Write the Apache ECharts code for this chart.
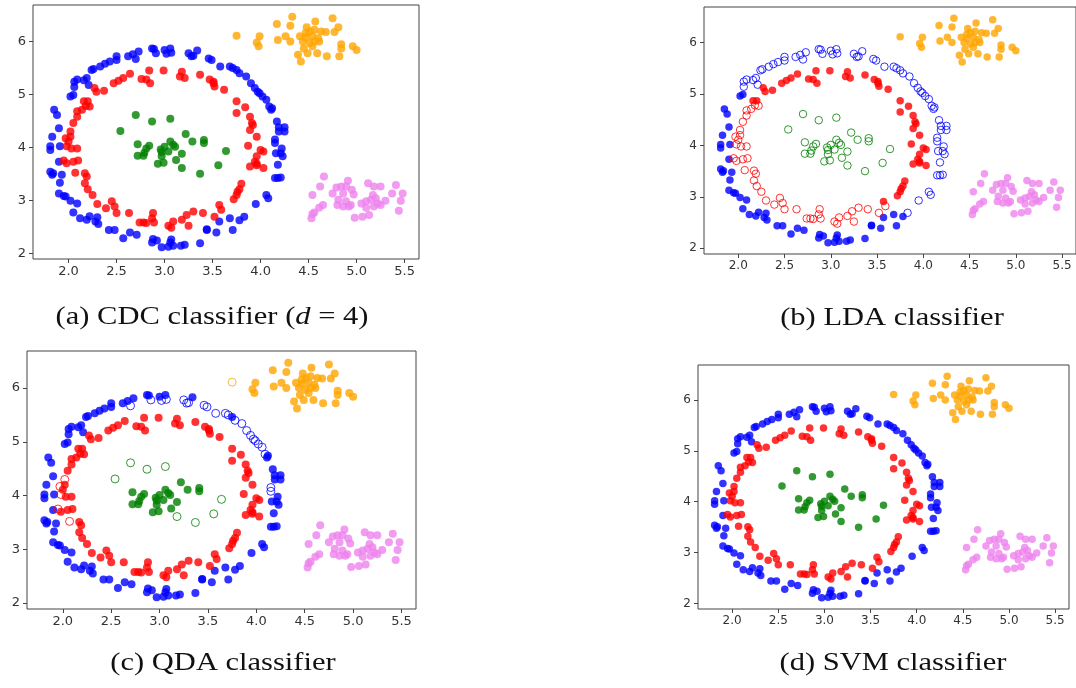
<!DOCTYPE html>
<html>
<head>
<meta charset="utf-8">
<script src="https://cdn.jsdelivr.net/npm/echarts@6/dist/echarts.min.js"></script>
<style>html,body{margin:0;background:#fff}#chart{width:1076px;height:688px}</style>
</head>
<body>
<div id="chart"></div>
<script>
// same data set in all four panels
var blue = [
    [2.89,5.86],[2.91,5.78],[3.00,5.84],[3.02,5.77],[3.06,5.87],[3.07,5.79],[3.25,5.78],[3.28,5.72],
    [3.34,5.83],[3.30,5.73],[3.46,5.68],[3.49,5.65],[3.58,5.53],[3.68,5.53],[3.75,5.46],[3.78,5.40],
    [3.71,5.50],[3.90,5.21],[3.94,5.12],[3.97,5.05],[4.02,4.96],[4.06,4.90],[4.09,4.77],[4.11,4.71],
    [4.17,4.49],[4.19,4.38],[4.25,4.38],[4.19,4.30],[4.15,4.15],[4.15,4.08],[4.22,3.98],[4.16,3.89],
    [4.23,3.83],[4.18,3.67],[4.18,3.42],[4.21,3.43],[4.06,3.10],[4.08,3.04],[3.95,2.93],[3.83,2.69],
    [3.78,2.62],[3.68,2.66],[3.71,2.44],[3.57,2.60],[3.54,2.39],[3.44,2.45],[3.37,2.19],[3.21,2.16],
    [3.17,2.14],[3.09,2.14],[3.07,2.26],[3.06,2.20],[2.97,2.11],[2.92,2.24],[2.87,2.20],[2.71,2.35],
    [2.64,2.39],[2.57,2.28],[2.48,2.44],[2.42,2.44],[2.31,2.55],[2.28,2.60],[2.30,2.68],[2.22,2.70],
    [2.12,2.66],[2.05,2.77],[2.09,2.94],[2.02,2.99],[1.95,3.08],[1.90,3.13],[1.91,3.33],[1.93,3.48],
    [1.81,3.54],[1.83,3.48],[1.90,3.73],[1.81,4.02],[1.81,3.95],[1.91,4.02],[1.83,4.20],[1.90,4.36],
    [1.88,4.61],[1.85,4.71],[2.05,4.99],[2.06,5.14],[2.06,5.24],[2.16,5.27],[2.21,5.18],[2.26,5.48],
    [2.33,5.53],[2.38,5.58],[2.50,5.65],[2.50,5.72],[2.62,5.72],[2.67,5.76],[2.73,5.81],[2.70,5.67],
    [2.09,5.28],[2.02,4.96],[2.19,5.31],[2.24,5.46],[2.43,5.62],[2.87,5.87],[3.85,5.34],[3.99,5.02],
    [4.12,4.74],[4.25,4.30],[4.21,3.89],[4.15,3.42],[2.19,2.63],[1.97,3.07],[1.84,3.51],[3.04,2.12],
    [2.88,2.27],[3.44,2.44]
];
var red = [
    [2.99,5.45],[2.84,5.45],[2.76,5.29],[2.81,5.28],[2.85,5.21],[2.64,5.39],[2.57,5.31],[2.52,5.26],
    [2.47,5.21],[2.37,5.07],[2.29,5.05],[2.27,5.12],[3.18,5.43],[3.16,5.34],[3.21,5.31],[3.37,5.37],
    [3.47,5.28],[3.51,5.21],[3.52,5.15],[3.62,5.09],[3.75,4.87],[3.75,4.65],[3.84,4.76],[3.89,4.58],
    [3.91,4.46],[3.89,4.33],[3.96,4.20],[3.87,4.03],[4.00,3.95],[4.03,3.92],[3.96,3.83],[3.94,3.73],
    [3.89,3.64],[4.03,3.61],[3.96,3.66],[3.80,3.31],[3.78,3.21],[3.75,3.10],[3.72,3.02],[3.57,2.91],
    [3.59,2.82],[3.52,2.69],[3.40,2.76],[3.30,2.79],[3.23,2.72],[3.18,2.63],[3.25,2.52],[3.09,2.60],
    [3.04,2.52],[3.07,2.48],[2.88,2.76],[2.89,2.58],[2.81,2.57],[2.74,2.58],[2.63,2.76],[2.50,2.76],
    [2.45,2.98],[2.48,2.88],[2.39,2.85],[2.30,2.93],[2.25,3.10],[2.20,3.21],[2.17,3.32],[2.17,3.51],
    [2.07,3.52],[2.05,3.73],[2.10,3.75],[1.95,3.75],[1.98,4.02],[2.03,3.98],[2.09,3.98],[1.97,4.17],
    [2.02,4.30],[2.05,4.46],[2.09,4.58],[2.14,4.71],[2.20,4.87],[2.22,4.77],[2.16,4.87],[2.02,4.20],
    [2.09,4.68],[2.18,4.78],[2.00,4.11],[1.98,3.70],[2.19,3.45],[2.78,2.58],[2.87,2.66],[3.76,3.16],
    [3.92,4.42],[3.96,3.69],[3.51,5.24]
];
var green = [
    [2.54,4.31],[2.70,4.61],[2.87,4.49],[3.06,4.54],[3.22,4.25],[3.29,4.11],[3.41,4.14],[3.41,4.08],
    [3.64,3.93],[3.56,3.66],[3.37,3.50],[2.72,4.06],[2.72,3.84],[2.78,3.84],[2.81,3.98],[2.84,4.03],
    [2.96,3.96],[3.00,4.01],[3.06,4.11],[3.09,4.05],[3.04,3.92],[2.97,3.83],[2.93,3.69],[2.99,3.71],
    [3.11,4.01],[3.18,3.88],[3.12,3.76],[3.18,3.61],[2.97,3.91],[2.79,3.90]
];
var orange = [
    [3.75,6.11],[4.17,6.33],[4.33,6.47],[4.31,6.30],[3.99,6.10],[3.96,5.98],[3.98,5.91],[4.18,6.03],
    [4.26,6.10],[4.31,6.00],[4.57,6.38],[4.48,6.27],[4.56,6.22],[4.63,6.19],[4.68,6.18],[4.75,6.44],
    [4.81,6.27],[4.77,6.18],[4.47,6.08],[4.54,6.10],[4.61,6.00],[4.51,5.97],[4.45,5.87],[4.39,5.75],
    [4.42,5.62],[4.49,5.78],[4.59,5.78],[4.69,5.72],[4.82,5.72],[4.84,5.95],[4.84,5.87],[4.96,5.91],
    [5.00,5.84],[4.54,5.91],[4.47,6.16],[4.41,6.10],[4.51,6.19],[4.60,6.06],[4.44,6.00],[4.56,6.00]
];
var violet = [
    [4.66,3.45],[4.62,3.26],[4.54,3.10],[4.65,2.91],[4.61,2.86],[4.56,2.77],[4.53,2.66],[4.54,2.74],
    [4.75,3.13],[4.79,3.24],[4.84,3.26],[4.91,3.37],[4.89,3.26],[4.95,3.20],[4.97,3.11],[4.86,3.13],
    [4.81,3.01],[4.80,2.91],[4.86,2.88],[4.92,2.88],[4.89,2.98],[4.98,2.67],[5.06,2.69],[5.13,2.72],
    [5.05,2.94],[5.10,2.98],[5.15,3.01],[5.20,3.04],[5.17,3.10],[5.22,2.94],[5.25,2.91],[5.18,2.88],
    [5.12,3.32],[5.18,3.26],[5.25,3.26],[5.30,2.99],[5.41,3.29],[5.37,3.13],[5.48,3.13],[5.46,2.99],
    [5.44,2.80],[5.10,2.86],[4.94,2.91]
];

var xTicks = [2.0, 2.5, 3.0, 3.5, 4.0, 4.5, 5.0, 5.5];
var yTicks = [2, 3, 4, 5, 6];

var captions = [
    "(a) CDC classifier ({i|d} = 4)",
    "(b) LDA classifier",
    "(c) QDA classifier",
    "(d) SVM classifier"
];

// indices of points drawn hollow (misclassified) in each panel
var hollowCDC = {blue: [], red: [], green: [], orange: [], violet: []};
var hollowLDA = {
    blue: [0,1,2,3,4,5,6,7,8,9,10,11,12,13,14,15,16,17,18,19,20,21,22,23,24,25,26,27,28,29,
           30,31,32,33,34,35,36,37,38,39,83,84,85,86,87,88,89,90,91,92,93,94,95,
           96,98,99,100,101,102,103,104,105,106,107],
    red: [40,41,42,43,44,45,46,47,48,49,50,51,52,53,54,55,56,57,58,59,60,61,62,63,64,65,66,
          67,68,69,70,71,72,73,74,75,77,79,80,81,82,83,84,85,86],
    green: [0,1,2,3,4,5,6,7,8,9,10,11,12,13,14,15,16,17,18,19,20,21,22,23,24,25,26,27,28,29],
    orange: [], violet: []
};
var hollowQDA = {
    blue: [1,3,5,6,7,9,10,11,12,13,15,16,17,18,19,20,21,22,28,29,95,102,103],
    red: [64,67,68,71,72],
    green: [0,1,2,3,8,9,10,27],
    orange: [0], violet: []
};
var hollowSVM = {blue: [], red: [], green: [], orange: [], violet: []};

var classes = [
    {name: "blue", data: blue, color: "#0000ff"},
    {name: "red", data: red, color: "#ff0000"},
    {name: "green", data: green, color: "#008000"},
    {name: "orange", data: orange, color: "#ffa500"},
    {name: "violet", data: violet, color: "#ee82ee"}
];

var panels = [
    {hollow: hollowCDC, grid: {left: 33, top: 5, width: 386, height: 254}, font: 13, dot: 8, cap: [212, 317]},
    {hollow: hollowLDA, grid: {left: 704, top: 7, width: 376, height: 247}, font: 12, dot: 7.5, cap: [892, 318]},
    {hollow: hollowQDA, grid: {left: 27, top: 351, width: 389, height: 258}, font: 13, dot: 8, cap: [223, 663]},
    {hollow: hollowSVM, grid: {left: 698, top: 365, width: 371, height: 244}, font: 12, dot: 7.5, cap: [893, 663]}
];

var chart = echarts.init(document.getElementById("chart"), null, {renderer: "canvas"});

var grids = [], xAxes = [], yAxes = [], series = [], texts = [];
panels.forEach(function(p, k) {
    grids.push(Object.assign({show: true, borderColor: "#444", borderWidth: 1, backgroundColor: "#fff"}, p.grid));
    xAxes.push({gridIndex: k, type: "value", min: 1.63, max: 5.65,
        splitLine: {show: false}, axisLine: {show: false},
        axisTick: {show: true, customValues: xTicks, length: 4, lineStyle: {color: "#444"}},
        axisLabel: {customValues: xTicks, margin: 6, fontSize: p.font, color: "#333", fontFamily: "DejaVu Sans",
            formatter: function(v) {return v.toFixed(1)}}
    });
    yAxes.push({gridIndex: k, type: "value", min: 1.89, max: 6.69,
        splitLine: {show: false}, axisLine: {show: false},
        axisTick: {show: true, customValues: yTicks, length: 4, lineStyle: {color: "#444"}},
        axisLabel: {customValues: yTicks, margin: 7, fontSize: p.font, color: "#333", fontFamily: "DejaVu Sans"}
    });
    classes.forEach(function(c) {
        var hol = p.hollow[c.name];
        series.push({type: "scatter", xAxisIndex: k, yAxisIndex: k, symbol: "circle", symbolSize: p.dot,
            silent: true, animation: false,
            data: c.data.map(function(pt, i) {
                var h = hol.indexOf(i) > -1;
                return {value: pt, itemStyle: h ?
                    {color: "rgba(255,255,255,0)", borderColor: c.color, borderWidth: 1} :
                    {color: c.color, borderWidth: 0}};
            })
        });
    });
    // captions: stretched a little to match the wider Computer Modern face
    texts.push({type: "text", x: p.cap[0], y: p.cap[1], scaleX: 1.22, style: {
        text: captions[k], font: "25px 'Liberation Serif'", fill: "#111",
        textAlign: "center", textVerticalAlign: "middle", align: "center", verticalAlign: "middle",
        rich: {i: {font: "italic 25px 'Liberation Serif'", fill: "#111"}}
    }});
});

chart.setOption({
    animation: false,
    grid: grids, xAxis: xAxes, yAxis: yAxes, series: series,
    graphic: texts
});
</script>
</body>
</html>
